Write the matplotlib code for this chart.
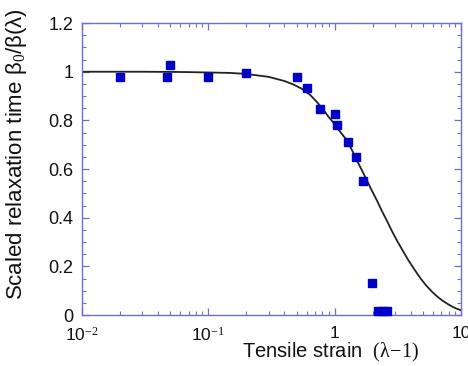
import matplotlib
matplotlib.use("Agg")
import matplotlib.pyplot as plt
from matplotlib.ticker import MultipleLocator, FixedLocator, LogLocator, NullFormatter, FixedFormatter

plt.rcParams['font.family'] = ['Liberation Sans', 'DejaVu Sans']
plt.rcParams['mathtext.fontset'] = 'custom'
plt.rcParams['mathtext.rm'] = 'Liberation Serif'
plt.rcParams['mathtext.it'] = 'Liberation Serif:italic'

# measured data (scaled relaxation time vs tensile strain)
strain = [0.02, 0.0475, 0.05, 0.1, 0.2, 0.5, 0.6, 0.77, 1.0, 1.04, 1.27, 1.47, 1.69, 1.99, 2.2, 2.4, 2.6]
ratio = [0.977, 0.98, 1.026, 0.977, 0.993, 0.978, 0.933, 0.848, 0.827, 0.782, 0.71, 0.648, 0.552, 0.13, 0.015, 0.015, 0.015]

# fitted curve
fit_x = [0.01, 0.03, 0.06, 0.1, 0.15, 0.2, 0.3, 0.4, 0.47, 0.55, 0.64, 0.72, 0.8, 0.88, 0.98, 1.1, 1.247,
         1.37, 1.496, 1.64, 1.796, 1.96, 2.153, 2.35, 2.58, 2.82, 3.1, 3.45, 3.83, 4.3, 4.8, 5.3, 5.9, 6.5, 7.2,
         7.9, 8.6, 9.3, 10.0]
fit_y = [1.0, 1.0, 0.999, 0.997, 0.995, 0.991, 0.979, 0.962, 0.948, 0.93, 0.905, 0.877, 0.849, 0.82, 0.79, 0.755,
         0.719, 0.679, 0.637, 0.596, 0.555, 0.514, 0.473, 0.431, 0.39, 0.349, 0.308, 0.266, 0.226, 0.186, 0.15,
         0.122, 0.096, 0.076, 0.058, 0.045, 0.034, 0.026, 0.02]

x_major = [0.01, 0.1, 1, 10]
x_labels = ['10$^{-2}$', '10$^{-1}$', '1', '10']
y_major = [0, 0.2, 0.4, 0.6, 0.8, 1.0, 1.2]
y_labels = ['0', '0.2', '0.4', '0.6', '0.8', '1', '1.2']

fig = plt.figure(figsize=(4.68, 3.66), dpi=100)
ax = fig.add_axes([0.175, 0.139, 0.81, 0.798])

ax.plot(fit_x, fit_y, color='#222222', lw=1.3, zorder=2)
ax.plot(strain, ratio, 's', color='#0000c8', ms=6, mec='#0000c8', zorder=3, clip_on=False)

ax.set_xscale('log')
ax.set_xlim(0.01, 10)
ax.set_ylim(0, 1.2)

ax.xaxis.set_major_locator(FixedLocator(x_major))
ax.xaxis.set_major_formatter(FixedFormatter(x_labels))
ax.xaxis.set_minor_locator(LogLocator(base=10, subs=range(2, 10), numticks=20))
ax.xaxis.set_minor_formatter(NullFormatter())
ax.set_yticks(y_major)
ax.set_yticklabels(y_labels)
ax.yaxis.set_minor_locator(MultipleLocator(0.05))

spine_c = '#6f6fd0'
for s in ax.spines.values():
    s.set_color(spine_c)
    s.set_linewidth(1.0)
ax.tick_params(which='both', direction='in', top=True, right=True, color=spine_c, labelcolor='#111111')
ax.tick_params(axis='x', labelsize=12.5)
ax.tick_params(axis='y', labelsize=13)
ax.tick_params(which='major', length=5, width=0.9)
ax.tick_params(axis='x', which='major', pad=8)
ax.tick_params(axis='y', which='major', pad=6)
ax.tick_params(which='minor', length=3, width=0.8)

ax.set_xlabel('Tensile strain  $\\mathrm{(\\lambda\\!-\\!1)}$', fontsize=14.5, color='#111111')
ax.xaxis.set_label_coords(0.657, -0.09)
ax.set_ylabel('Scaled relaxation time β$_{\\mathrm{0}}$/β(λ)', fontsize=16, color='#111111')
ax.yaxis.set_label_coords(-0.14, 0.55)

fig.savefig('out.png', dpi=100)
